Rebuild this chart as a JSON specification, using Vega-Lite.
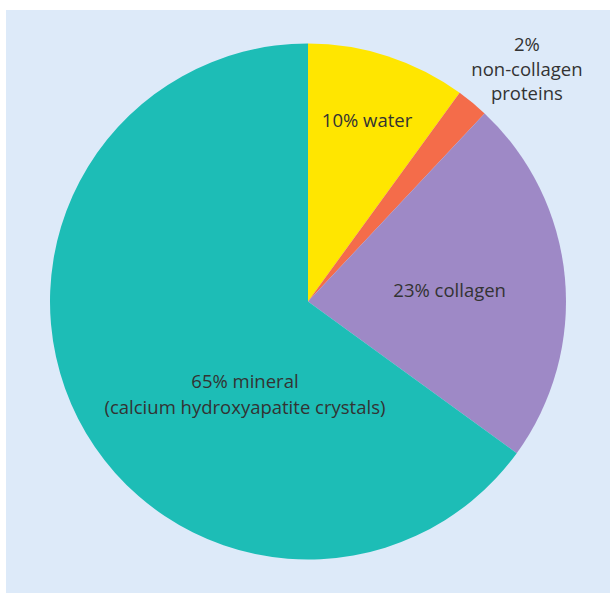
{
  "$schema": "https://vega.github.io/schema/vega-lite/v6.json",
  "autosize": {"type": "fit", "contains": "padding"},
  "width": 610,
  "height": 593,
  "padding": {"left": 6, "top": 10, "right": 0, "bottom": 0},
  "background": "white",
  "view": {"fill": "#ddeaf9", "stroke": null},
  "data": {
    "values": [
      {"part": "water", "percent": 10, "order": 1},
      {"part": "non-collagen proteins", "percent": 2, "order": 2},
      {"part": "collagen", "percent": 23, "order": 3},
      {"part": "mineral", "percent": 65, "order": 4}
    ]
  },
  "layer": [
    {
      "mark": {"type": "arc", "outerRadius": 258},
      "encoding": {
        "theta": {"field": "percent", "type": "quantitative", "stack": true},
        "order": {"field": "order", "type": "quantitative"},
        "color": {
          "field": "part",
          "type": "nominal",
          "scale": {
            "domain": ["water", "non-collagen proteins", "collagen", "mineral"],
            "range": ["#ffe600", "#f46c4a", "#9e89c6", "#1dbdb6"]
          },
          "legend": null
        }
      }
    },
    {
      "transform": [{"filter": "datum.part == 'water'"}],
      "mark": {"type": "text", "theta": 0.316, "radius": 190, "font": "Open Sans", "fontSize": 18.5, "color": "#333333", "align": "center", "baseline": "middle"},
      "encoding": {"text": {"value": "10% water"}}
    },
    {
      "transform": [{"filter": "datum.part == 'collagen'"}],
      "mark": {"type": "text", "theta": 1.50, "radius": 142, "font": "Open Sans", "fontSize": 18.5, "color": "#333333", "align": "center", "baseline": "middle"},
      "encoding": {"text": {"value": "23% collagen"}}
    },
    {
      "transform": [{"filter": "datum.part == 'mineral'"}],
      "mark": {"type": "text", "theta": 3.808, "radius": 102, "font": "Open Sans", "fontSize": 18.5, "color": "#333333", "align": "center", "baseline": "middle", "lineHeight": 26},
      "encoding": {"text": {"value": ["65% mineral", "(calcium hydroxyapatite crystals)"]}}
    },
    {
      "transform": [{"filter": "datum.part == 'non-collagen proteins'"}],
      "mark": {"type": "text", "theta": 0.707, "radius": 337, "font": "Open Sans", "fontSize": 18.5, "color": "#333333", "align": "center", "baseline": "middle", "lineHeight": 24.5},
      "encoding": {"text": {"value": ["2%", "non-collagen", "proteins"]}}
    }
  ]
}
